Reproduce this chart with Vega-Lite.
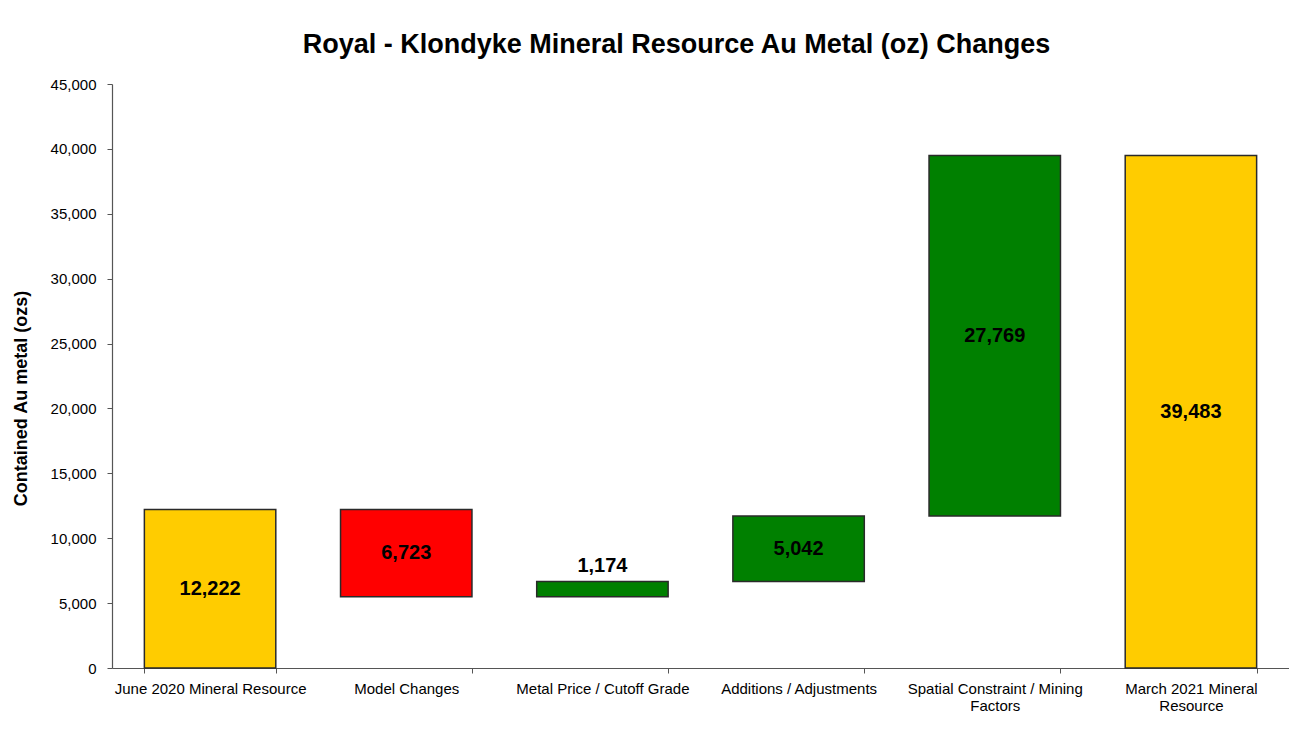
{
  "$schema": "https://vega.github.io/schema/vega-lite/v6.json",
  "width": 1177,
  "height": 584,
  "autosize": {"type": "none"},
  "padding": {"left": 112, "top": 84, "right": 0, "bottom": 83},
  "background": "white",
  "config": {
    "view": {"stroke": null},
    "font": "Liberation Sans"
  },
  "title": {
    "text": "Royal - Klondyke Mineral Resource Au Metal (oz) Changes",
    "fontSize": 27,
    "fontWeight": "bold",
    "font": "Liberation Sans",
    "color": "#000000",
    "anchor": "middle",
    "dx": -24,
    "dy": 37,
    "baseline": "bottom",
    "offset": 28
  },
  "data": {
    "values": [
      {"cat": "June 2020 Mineral Resource", "start": 0, "end": 12222, "amount": 12222, "kind": "total"},
      {"cat": "Model Changes", "start": 12222, "end": 5499, "amount": 6723, "kind": "decrease"},
      {"cat": "Metal Price / Cutoff Grade", "start": 5499, "end": 6673, "amount": 1174, "kind": "increase"},
      {"cat": "Additions / Adjustments", "start": 6673, "end": 11715, "amount": 5042, "kind": "increase"},
      {"cat": "Spatial Constraint / Mining Factors", "start": 11715, "end": 39483, "amount": 27769, "kind": "increase"},
      {"cat": "March 2021 Mineral Resource", "start": 0, "end": 39483, "amount": 39483, "kind": "total"}
    ]
  },
  "encoding": {
    "x": {
      "field": "cat",
      "type": "nominal",
      "sort": null,
      "scale": {"paddingInner": 0.33, "paddingOuter": 0.165},
      "axis": {
        "title": null,
        "labelAngle": 0,
        "labelFontSize": 15,
        "labelColor": "#000000",
        "labelPadding": 8,
        "labelLimit": 300,
        "labelLineHeight": 17,
        "tickBand": "extent",
        "tickSize": 5,
        "tickColor": "#555555",
        "domainColor": "#555555",
        "domainWidth": 1.2,
        "labelExpr": "datum.label == 'Spatial Constraint / Mining Factors' ? ['Spatial Constraint / Mining', 'Factors'] : datum.label == 'March 2021 Mineral Resource' ? ['March 2021 Mineral', 'Resource'] : datum.label"
      }
    }
  },
  "layer": [
    {
      "mark": {"type": "bar", "stroke": "#2a2a2a", "strokeWidth": 1.5},
      "encoding": {
        "y": {
          "field": "start",
          "type": "quantitative",
          "scale": {"domain": [0, 45000], "nice": false},
          "axis": {
            "title": "Contained Au metal (ozs)",
            "titleFontSize": 18,
            "titleFontWeight": "bold",
            "titleColor": "#000000",
            "titleAngle": 270,
            "titleX": -91,
            "titleY": 314,
            "titleAlign": "center",
            "titleBaseline": "middle",
            "values": [0, 5000, 10000, 15000, 20000, 25000, 30000, 35000, 40000, 45000],
            "format": ",.0f",
            "labelFontSize": 15,
            "labelColor": "#000000",
            "labelPadding": 11,
            "tickSize": 5,
            "tickColor": "#555555",
            "domainColor": "#555555",
            "domainWidth": 1.2,
            "grid": false
          }
        },
        "y2": {"field": "end"},
        "color": {
          "field": "kind",
          "type": "nominal",
          "scale": {"domain": ["total", "decrease", "increase"], "range": ["#FFCC00", "#FF0000", "#008000"]},
          "legend": null
        }
      }
    },
    {
      "transform": [
        {"filter": "abs(datum.end - datum.start) > 3000"},
        {"calculate": "(datum.start + datum.end) / 2", "as": "mid"}
      ],
      "mark": {"type": "text", "fontSize": 20, "fontWeight": "bold", "color": "#000000", "baseline": "middle"},
      "encoding": {
        "y": {"field": "mid", "type": "quantitative"},
        "text": {"field": "amount", "type": "quantitative", "format": ",.0f"}
      }
    },
    {
      "transform": [
        {"filter": "abs(datum.end - datum.start) <= 3000"},
        {"calculate": "max(datum.start, datum.end)", "as": "top"}
      ],
      "mark": {"type": "text", "fontSize": 20, "fontWeight": "bold", "color": "#000000", "baseline": "alphabetic", "dy": -9},
      "encoding": {
        "y": {"field": "top", "type": "quantitative"},
        "text": {"field": "amount", "type": "quantitative", "format": ",.0f"}
      }
    }
  ]
}
